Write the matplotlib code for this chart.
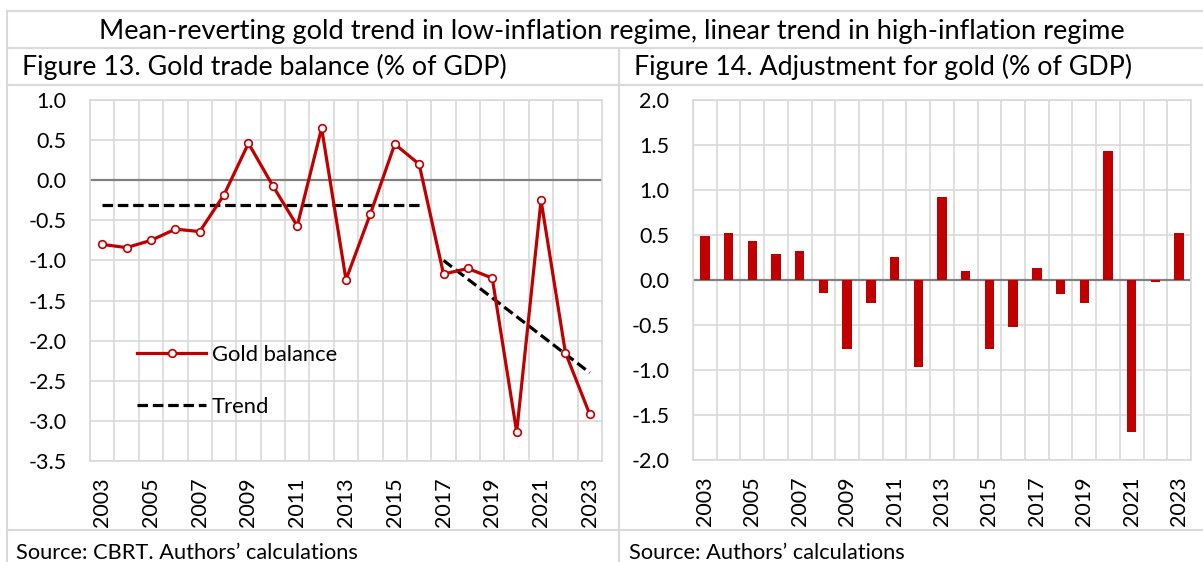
import matplotlib.pyplot as plt
from matplotlib.lines import Line2D
import numpy as np

plt.rcParams['font.family'] = ['Lato', 'DejaVu Sans']

W, H = 1203, 562

years = list(range(2003, 2024))
tick_years = list(range(2003, 2024, 2))

# figure 13: gold trade balance (% of GDP)
gold_balance = [-0.80, -0.84, -0.75, -0.61, -0.64, -0.18, 0.46, -0.07, -0.57, 0.65,
                -1.24, -0.42, 0.45, 0.20, -1.17, -1.10, -1.22, -3.14, -0.25, -2.15, -2.92]
trend_low_years = [2003, 2016]
trend_low = [-0.31, -0.31]
trend_high_years = [2017, 2023]
trend_high = [-1.0, -2.4]

# figure 14: adjustment for gold (% of GDP)
adjustment = [0.49, 0.52, 0.43, 0.29, 0.32, -0.14, -0.77, -0.25, 0.26, -0.97,
              0.92, 0.10, -0.77, -0.52, 0.13, -0.16, -0.26, 1.43, -1.69, -0.02, 0.52]

red = '#C00000'
grid_c = '#D9D9D9'
zero_c = '#808080'


def fx(px):
    return px / W


def fy(py):
    return 1 - py / H


def axes_px(x0, y0, x1, y1):
    return [fx(x0), fy(y1), fx(x1) - fx(x0), fy(y0) - fy(y1)]


def style(ax, ylim, yticks):
    ax.set_xlim(2002.5, 2023.5)
    ax.set_ylim(*ylim)
    ax.set_yticks(yticks)
    ax.set_yticklabels([f"{v:.1f}" for v in yticks])
    ax.set_xticks(tick_years)
    ax.set_xticklabels([str(y) for y in tick_years], rotation=90)
    ax.set_xticks(np.arange(2002.5, 2024, 1), minor=True)
    ax.grid(which='minor', axis='x', color=grid_c, lw=1.2)
    ax.grid(which='major', axis='y', color=grid_c, lw=1.2)
    ax.grid(which='major', axis='x', visible=False)
    ax.set_axisbelow(True)
    for s in ax.spines.values():
        s.set_color(grid_c)
        s.set_linewidth(1.2)
    ax.tick_params(which='both', length=0)
    ax.tick_params(axis='y', pad=17, labelsize=15.5)
    ax.tick_params(axis='x', pad=12, labelsize=15.5)
    ax.axhline(0, color=zero_c, lw=1.6, zorder=1.5)


fig = plt.figure(figsize=(W / 100, H / 100), dpi=100)

# table-like frame
for (x0, y0, x1, y1) in [(7, 11, W, 11), (7, 48, W, 48), (7, 85, W, 85),
                         (7, 530, W, 530), (7, 11, 7, H), (619, 48, 619, H)]:
    fig.add_artist(Line2D([fx(x0), fx(x1)], [fy(y0), fy(y1)], color=grid_c, lw=1.5))

fig.text(fx(612), fy(31), "Mean-reverting gold trend in low-inflation regime, linear trend in high-inflation regime",
         ha='center', va='center', fontsize=19.6)
fig.text(fx(22), fy(67), "Figure 13. Gold trade balance (% of GDP)", ha='left', va='center', fontsize=19.3)
fig.text(fx(634), fy(67), "Figure 14. Adjustment for gold (% of GDP)", ha='left', va='center', fontsize=19.3)
fig.text(fx(16), fy(543), "Source: CBRT. Authors\u2019 calculations", ha='left', va='top', fontsize=15.7)
fig.text(fx(629), fy(543), "Source: Authors\u2019 calculations", ha='left', va='top', fontsize=15.7)

# left chart
ax1 = fig.add_axes(axes_px(90, 100, 602, 461))
style(ax1, (-3.5, 1.0), np.arange(-3.5, 1.01, 0.5))
ax1.plot(years, gold_balance, color=red, lw=2.3, marker='o', ms=5.5,
         mfc='white', mec=red, mew=1.2, label='Gold balance', zorder=3)
ax1.plot(trend_low_years, trend_low, color='black', lw=2.3, dashes=(3.3, 1.5),
         label='Trend', zorder=2.5)
ax1.plot(trend_high_years, trend_high, color='black', lw=2.3, dashes=(3.3, 1.5), zorder=2.5)
ax1.legend(loc='upper left', bbox_to_anchor=(fx(137), fy(345)), bbox_transform=fig.transFigure,
           frameon=False, fontsize=15.8, handlelength=3.15, handletextpad=0.25,
           labelspacing=1.45, borderpad=0, borderaxespad=0)

# right chart
ax2 = fig.add_axes(axes_px(693, 100, 1191, 460))
style(ax2, (-2.0, 2.0), np.arange(-2.0, 2.01, 0.5))
ax2.bar(years, adjustment, width=0.4, color=red, zorder=2)

fig.savefig('out.png', dpi=100)
